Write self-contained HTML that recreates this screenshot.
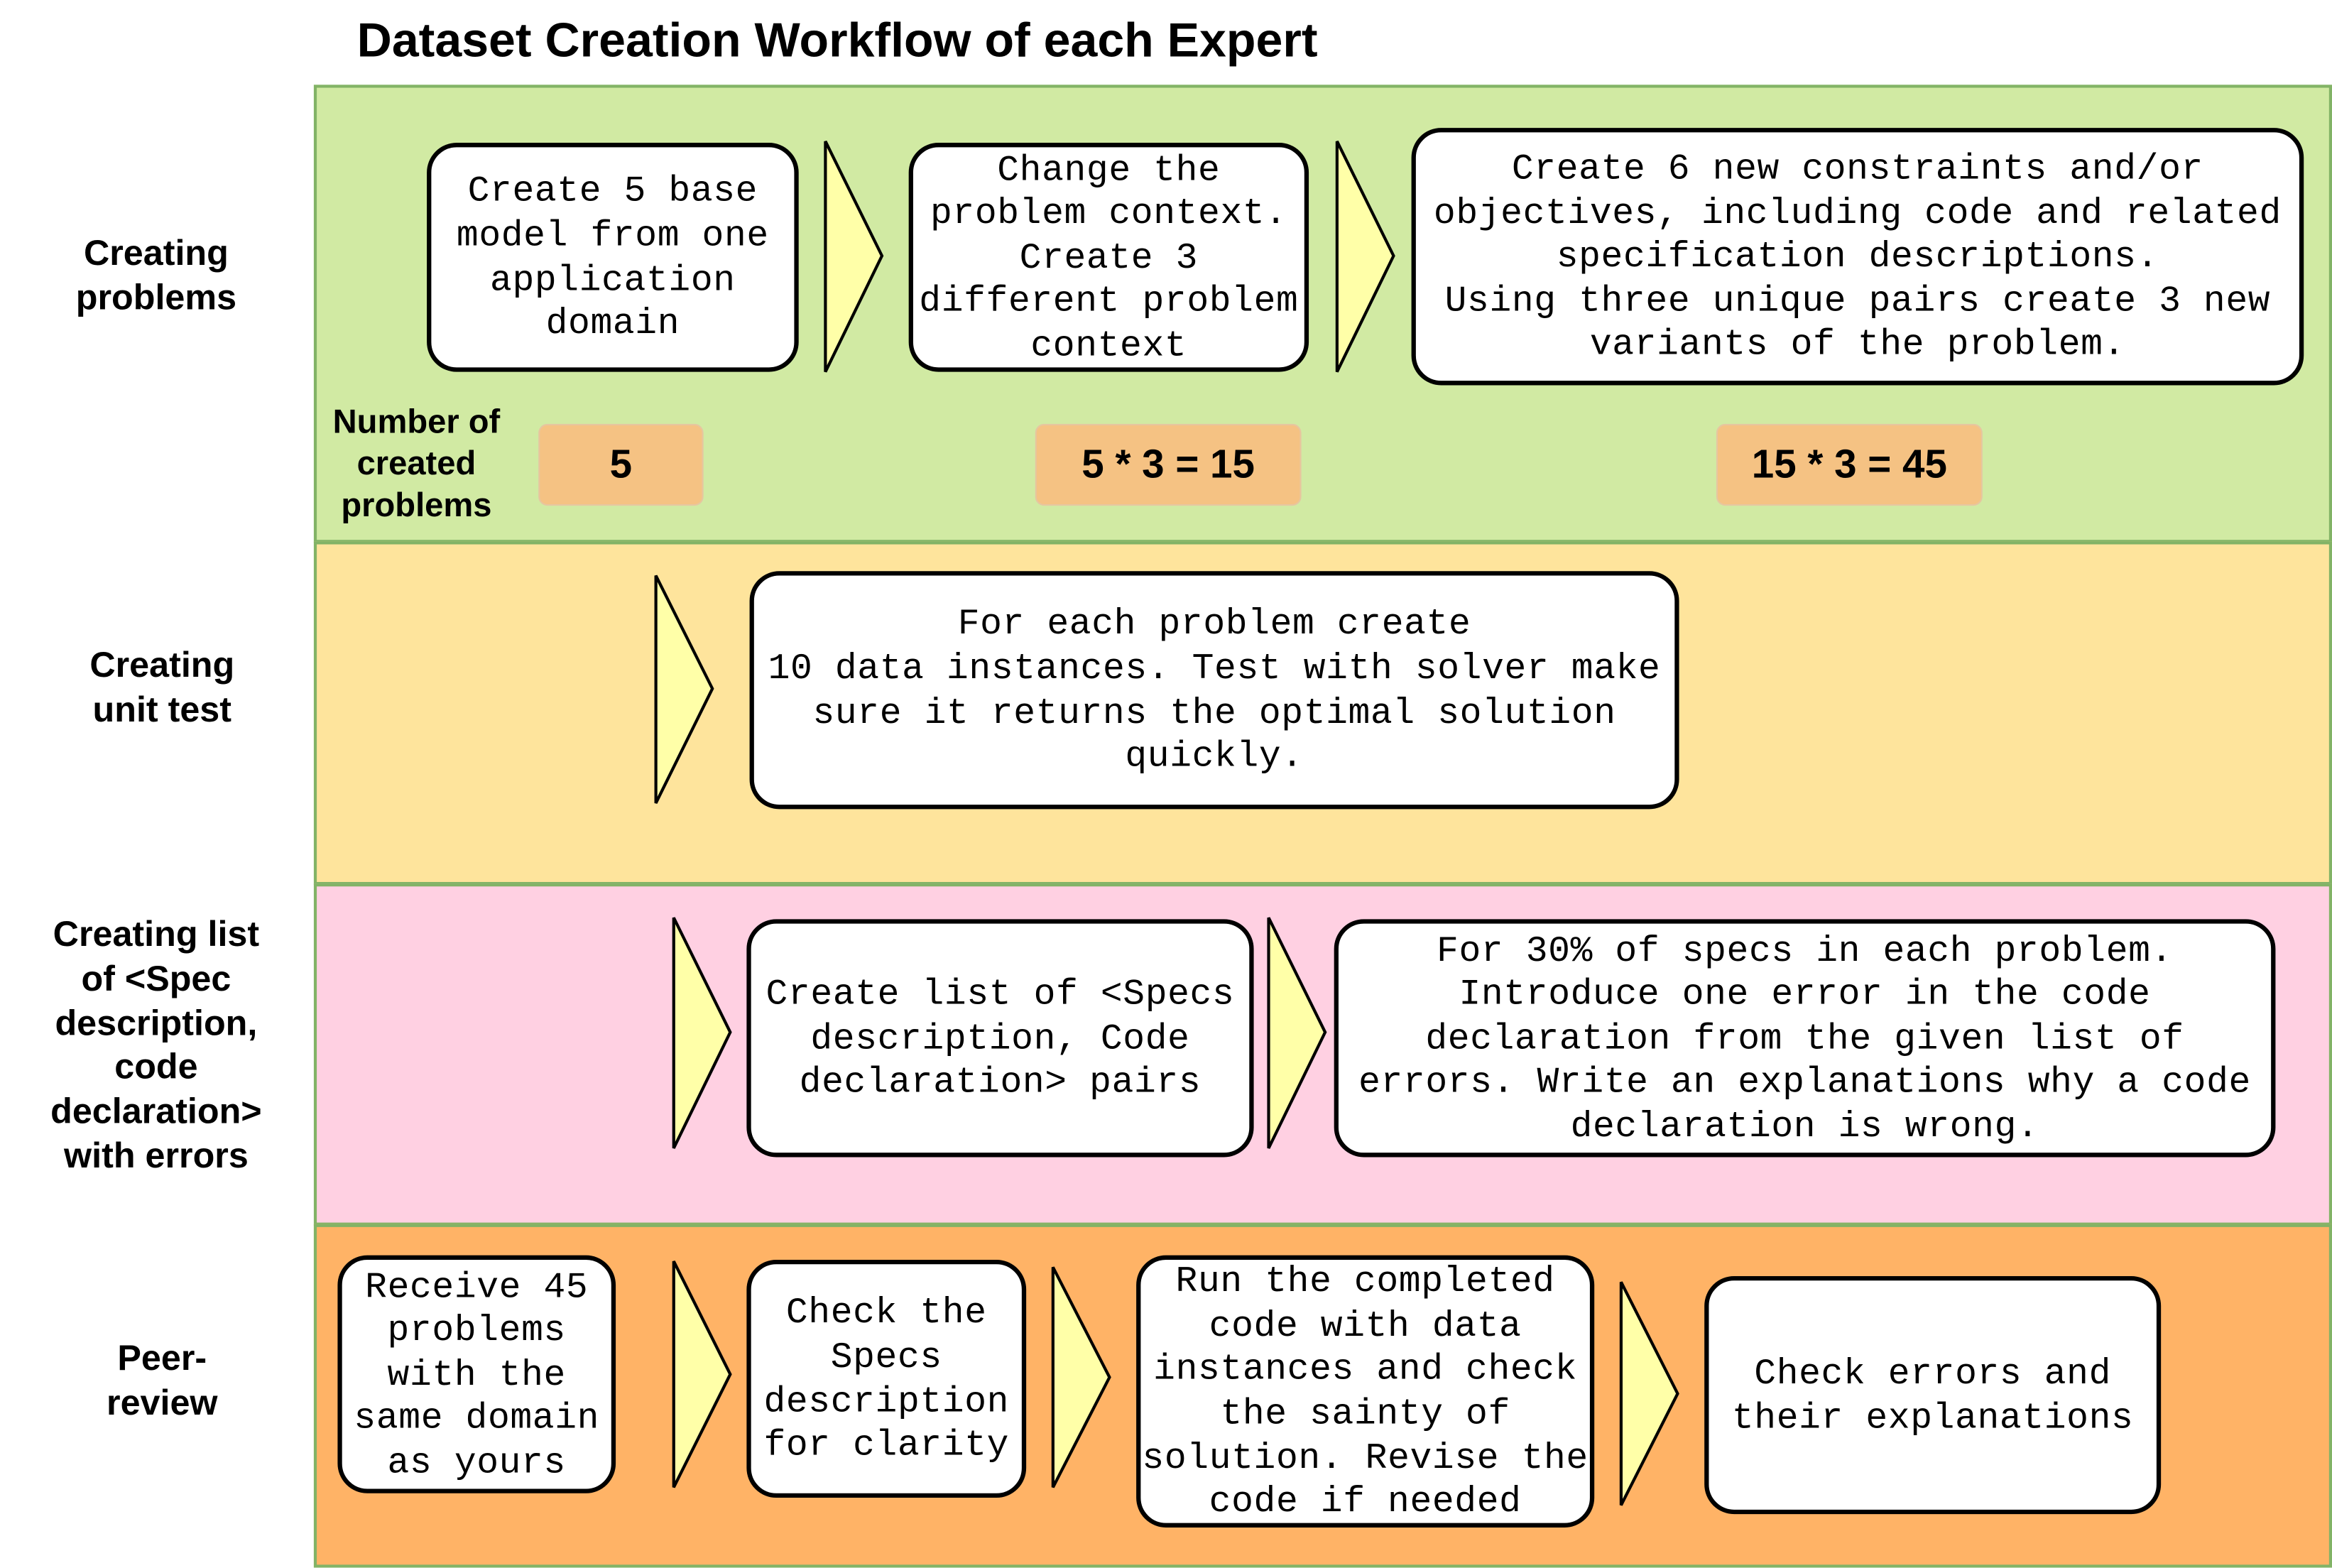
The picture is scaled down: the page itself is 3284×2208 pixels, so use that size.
<!DOCTYPE html>
<html><head><meta charset="utf-8">
<style>
html,body{margin:0;padding:0;background:#fff;width:3284px;height:2208px;overflow:hidden}
#root{position:absolute;left:0;top:0;width:1568px;height:1054px;transform:scale(2.0944);transform-origin:0 0;font-family:"Liberation Sans",sans-serif}
.abs{position:absolute}
.band{position:absolute;left:211px;width:1357px;border:2px solid #82b366;box-sizing:border-box}
.lbl{position:absolute;font-weight:bold;font-size:24px;line-height:30px;text-align:center;color:#000}
.box{position:absolute;background:#fff;border:3px solid #000;border-radius:20px;box-sizing:border-box;display:flex;align-items:center;justify-content:center;text-align:center;font-family:"Liberation Mono",monospace;font-size:24.5px;line-height:29.6px;white-space:pre;color:#000;letter-spacing:0.3px;padding-top:3px}
.tri{position:absolute;overflow:visible}
.num{position:absolute;background:#f5c283;border:1.5px solid #e6c6a0;border-radius:6px;box-sizing:border-box;display:flex;align-items:center;justify-content:center;font-weight:bold;font-size:27px}
</style></head><body>
<div id="root">
<div class="abs" style="left:240px;top:9px;font-size:32.5px;font-weight:bold;white-space:nowrap">Dataset Creation Workflow of each Expert</div>

<div class="band" style="top:57px;height:308px;background:#d1eaa3"></div>
<div class="band" style="top:364px;height:231px;background:#fee49c"></div>
<div class="band" style="top:594px;height:230px;background:#ffd0e2"></div>
<div class="band" style="top:823px;height:231px;background:#ffb366"></div>

<div class="lbl" style="left:28px;width:154px;top:156px">Creating<br>problems</div>
<div class="lbl" style="left:32px;width:154px;top:433px">Creating<br>unit test</div>
<div class="lbl" style="left:5px;width:200px;top:614px;line-height:29.8px">Creating list<br>of &lt;Spec<br>description,<br>code<br>declaration&gt;<br>with errors</div>
<div class="lbl" style="left:32px;width:154px;top:899px">Peer-<br>review</div>
<div class="lbl" style="left:205px;width:150px;top:270px;font-size:22.5px;line-height:28px">Number of<br>created<br>problems</div>

<div class="num" style="left:362px;top:285px;width:111px;height:55px">5</div>
<div class="num" style="left:696px;top:285px;width:179px;height:55px">5 * 3 = 15</div>
<div class="num" style="left:1154px;top:285px;width:179px;height:55px">15 * 3 = 45</div>

<div class="box" style="left:287px;top:96px;width:250px;height:154px">Create 5 base
model from one
application
domain</div>
<div class="box" style="left:611px;top:96px;width:269px;height:154px">Change the
problem context.
Create 3
different problem
context</div>
<div class="box" style="left:949px;top:86px;width:600px;height:173px">Create 6 new constraints and/or
objectives, including code and related
specification descriptions.
Using three unique pairs create 3 new
variants of the problem.</div>
<div class="box" style="left:504px;top:384px;width:625px;height:160px">For each problem create
10 data instances. Test with solver make
sure it returns the optimal solution
quickly.</div>
<div class="box" style="left:502px;top:618px;width:341px;height:160px">Create list of &lt;Specs
description, Code
declaration&gt; pairs</div>
<div class="box" style="left:897px;top:618px;width:633px;height:160px">For 30% of specs in each problem.
Introduce one error in the code
declaration from the given list of
errors. Write an explanations why a code
declaration is wrong.</div>
<div class="box" style="left:227px;top:844px;width:187px;height:160px">Receive 45
problems
with the
same domain
as yours</div>
<div class="box" style="left:502px;top:847px;width:188px;height:160px">Check the
Specs
description
for clarity</div>
<div class="box" style="left:764px;top:844px;width:308px;height:183px">Run the completed
code with data
instances and check
the sainty of
solution. Revise the
code if needed</div>
<div class="box" style="left:1146px;top:858px;width:307px;height:160px">Check errors and
their explanations</div>

<svg class="tri" width="1568" height="1054" style="left:0;top:0">
<g fill="#ffffa8" stroke="#000" stroke-width="2">
<polygon points="555,95 593,172 555,250"/>
<polygon points="899,95 937,172 899,250"/>
<polygon points="441,387 479,463 441,540"/>
<polygon points="453,617 491,694 453,772"/>
<polygon points="853,617 891,694 853,772"/>
<polygon points="453,848 491,924 453,1000"/>
<polygon points="708,852 746,926 708,1000"/>
<polygon points="1090,862 1128,937 1090,1012"/>
</g>
</svg>
</div>
</body></html>
